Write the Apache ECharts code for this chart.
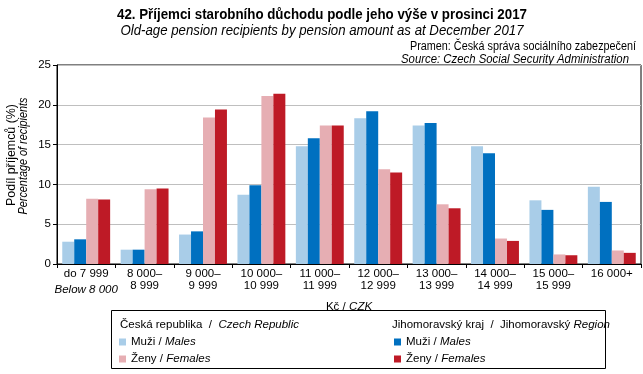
<!DOCTYPE html>
<html><head><meta charset="utf-8">
<script src="https://cdn.jsdelivr.net/npm/echarts@6/dist/echarts.min.js"></script>
<style>html,body{margin:0;padding:0;background:#fff}#c{width:643px;height:374px}</style>
</head><body><div id="c"></div>
<script>
const categories = ['do 7 999','8 000–\n8 999','9 000–\n9 999','10 000–\n10 999','11 000–\n11 999','12 000–\n12 999','13 000–\n13 999','14 000–\n14 999','15 000–\n15 999','16 000+'];
const firstCategoryNote = 'Below 8 000';
const czMales   = [2.8, 1.8, 3.7, 8.7, 14.8, 18.3, 17.4, 14.8, 8.0, 9.7];
const jmMales   = [3.1, 1.8, 4.1, 9.9, 15.8, 19.2, 17.7, 13.9, 6.8, 7.8];
const czFemales = [8.2, 9.4, 18.4, 21.1, 17.4, 11.9, 7.5, 3.2, 1.2, 1.7];
const jmFemales = [8.1, 9.5, 19.4, 21.4, 17.4, 11.5, 7.0, 2.9, 1.1, 1.4];
const yTicks = [0, 5, 10, 15, 20, 25];

const FONT = "'Liberation Sans', Arial, sans-serif";
const FS = 11.5;
const colors = {czM:'#a9cde8', jmM:'#0070c0', czF:'#e6aeb3', jmF:'#be1a26'};
const legendLabels = {
  czM:'{n|Muži /} {i|Males}', czF:'{n|Ženy /} {i|Females}',
  jmM:'{n|Muži /} {i|Males}', jmF:'{n|Ženy /} {i|Females}'
};
const rich = {
  n:{fontFamily:FONT,fontSize:FS,color:'#000',lineHeight:12},
  i:{fontFamily:FONT,fontSize:FS,color:'#000',fontStyle:'italic',lineHeight:12}
};

const ctx = document.createElement('canvas').getContext('2d');
function fitScale(text, font, target){ ctx.font = font; return target / ctx.measureText(text).width; }
function narrowText(text, font, x, y, target, align, rotation){
  const s = fitScale(text, font, target);
  return {type:'text', x:x, y:y, rotation:rotation||0, scaleX:s, scaleY:1,
    style:{text:text, font:font, fill:'#000', align:align, verticalAlign:'middle'}};
}

const chart = echarts.init(document.getElementById('c'), null, {renderer:'canvas'});
function bar(id, data){
  return {type:'bar', name:id, data:data, itemStyle:{color:colors[id]},
    barGap:'0%', barCategoryGap:'18%', animation:false};
}
const T1 = '42. Příjemci starobního důchodu podle jeho výše v prosinci 2017';
const T2 = 'Old-age pension recipients by pension amount as at December 2017';
const S1 = 'Pramen: Česká správa sociálního zabezpečení';
const S2 = 'Source: Czech Social Security Administration';
const Y1 = 'Podíl příjemců (%)';
const Y2 = 'Percentage of recipients';
chart.setOption({
  animation:false,
  backgroundColor:'#fff',
  grid:{left:57, right:2, top:65, bottom:110, show:true, borderColor:'#000', borderWidth:1},
  xAxis:{type:'category', data:categories,
    axisLine:{lineStyle:{color:'#000'}},
    axisTick:{show:true, length:4, lineStyle:{color:'#000'}},
    axisLabel:{fontFamily:FONT, fontSize:FS, color:'#000', margin:4, lineHeight:12, interval:0,
      formatter:function(v, idx){ return idx===0 ? v + '\n{i|' + firstCategoryNote + '}' : v; },
      rich:{i:{fontFamily:FONT,fontSize:FS,fontStyle:'italic',color:'#000',lineHeight:14, padding:[6,0,0,0]}}},
    name:'{n|Kč /} {i|CZK}', nameLocation:'middle', nameGap:35,
    nameTextStyle:{rich:rich}
  },
  yAxis:{type:'value', min:yTicks[0], max:yTicks[yTicks.length-1], interval:5,
    axisLine:{show:true, lineStyle:{color:'#000'}},
    axisTick:{show:true, length:4, lineStyle:{color:'#000'}},
    axisLabel:{fontFamily:FONT, fontSize:FS, color:'#000', margin:6},
    splitLine:{lineStyle:{color:'#bfbfbf'}}
  },
  legend:[
    {data:['czM','czF'], orient:'vertical', left:119, top:336, padding:0, itemGap:5,
     itemWidth:7, itemHeight:7, icon:'rect', formatter:n=>legendLabels[n], textStyle:{rich:rich}},
    {data:['jmM','jmF'], orient:'vertical', left:394, top:336, padding:0, itemGap:5,
     itemWidth:7, itemHeight:7, icon:'rect', formatter:n=>legendLabels[n], textStyle:{rich:rich}}
  ],
  series:[bar('czM',czMales), bar('jmM',jmMales), bar('czF',czFemales), bar('jmF',jmFemales)],
  graphic:[
    narrowText(T1, 'bold 14px '+FONT, 322, 15, 410, 'center'),
    narrowText(T2, 'italic 14px '+FONT, 322, 31, 403, 'center'),
    narrowText(S1, '12px '+FONT, 636, 47, 226, 'right'),
    narrowText(S2, 'italic 12px '+FONT, 629, 60, 228, 'right'),
    narrowText(Y1, '12px '+FONT, 12, 155, 102, 'center', Math.PI/2),
    narrowText(Y2, 'italic 12px '+FONT, 24, 156, 117, 'center', Math.PI/2),
    {type:'rect', shape:{x:111.5, y:310.5, width:494, height:58}, style:{fill:'none', stroke:'#000', lineWidth:1}},
    {type:'text', x:120, y:325, style:{text:'{n|Česká republika  /  }{i|Czech Republic}', rich:rich, verticalAlign:'middle'}},
    {type:'text', x:392, y:325, style:{text:'{n|Jihomoravský kraj  /  Jihomoravský }{i|Region}', rich:rich, verticalAlign:'middle'}}
  ]
});
</script></body></html>
